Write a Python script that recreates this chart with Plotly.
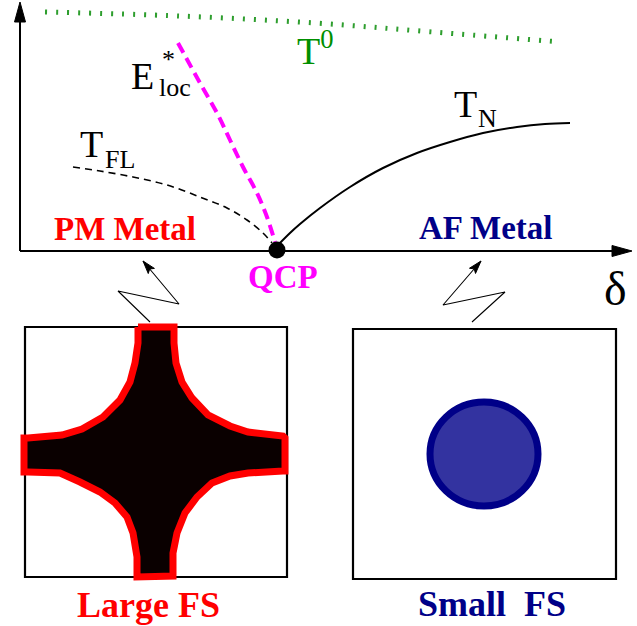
import math
import plotly.graph_objects as go

# ---------------- data (schematic coordinates, pixel-like units) ----------------
t0_x = [45, 180, 315, 433, 561]
t0_y = [12, 16, 23, 32, 42]
eloc_x = [178, 200, 217, 230, 243, 257, 267, 275]
eloc_y = [43, 83, 113, 140, 167, 193, 217, 242]
tfl_x = [73, 100, 133, 167, 200, 227, 247, 263, 272]
tfl_y = [167, 171, 177, 185, 197, 208, 220, 233, 243]
tn_x = [278, 290, 300, 320, 350, 383, 417, 450, 483, 517, 545, 570]
tn_y = [245, 233, 224, 208, 187, 168, 153, 142, 133, 127, 124, 123]
qcp_x = [277]
qcp_y = [250]

bolt_left_x = [150, 118, 179, 143]
bolt_left_y = [322, 291, 304, 261]
bolt_right_x = [472, 505, 443, 481]
bolt_right_y = [322, 292, 305, 261]

# large Fermi surface outline (clockwise from top-left of top arm)
fs_x = [138, 174, 174, 176, 182, 192, 208, 230, 248, 283, 285,
        285, 283, 248, 230, 212, 197, 185, 177, 173, 173,
        173, 137, 137, 133, 127, 115, 100, 80, 60, 28, 24,
        24, 28, 62, 82, 103, 120, 130, 135, 138, 138]
fs_y = [327, 327, 343, 363, 382, 398, 415, 426, 432, 436, 438,
        471, 471, 473, 476, 483, 497, 513, 533, 553, 575,
        576, 577, 557, 533, 517, 503, 492, 482, 473, 472, 472,
        438, 438, 435, 429, 417, 400, 382, 363, 343, 327]

# small Fermi surface pocket: center and radii
pocket_cx, pocket_cy, pocket_rx, pocket_ry = 484, 454, 54, 52

# axes
origin_x, origin_y = 20, 251
yaxis_top, xaxis_end = 2, 632

# boxes (x0, y0, x1, y1)
box_left = (25, 327, 287, 577)
box_right = (353, 329, 616, 579)

FONT = "Liberation Serif, DejaVu Serif, serif"
RED = "#ff0000"
NAVY = "#000088"
MAGENTA = "#ff00ff"
GREEN_TXT = "#008f00"
GREEN_DOT = "#2e9e2e"


def head_path(tip_x, tip_y, from_x, from_y, length, width, notch=0.0):
    dx, dy = tip_x - from_x, tip_y - from_y
    n = math.hypot(dx, dy)
    ux, uy = dx / n, dy / n
    bx, by = tip_x - ux * length, tip_y - uy * length
    px, py = -uy, ux
    p1 = (bx + px * width / 2, by + py * width / 2)
    p2 = (bx - px * width / 2, by - py * width / 2)
    nx, ny = bx + ux * length * notch, by + uy * length * notch
    return (f"M {tip_x},{tip_y} L {p1[0]:.2f},{p1[1]:.2f} L {nx:.2f},{ny:.2f} "
            f"L {p2[0]:.2f},{p2[1]:.2f} Z")


fig = go.Figure()

# T0 dotted line (vertical ticks)
fig.add_trace(go.Scatter(x=t0_x, y=t0_y, mode="lines", line_shape="spline",
                         line=dict(color=GREEN_DOT, width=5, dash="2px,9px"),
                         hoverinfo="skip"))
# T_FL dashed
fig.add_trace(go.Scatter(x=tfl_x, y=tfl_y, mode="lines", line_shape="spline",
                         line=dict(color="black", width=1.6, dash="7px,5px"),
                         hoverinfo="skip"))
# E*_loc dashed magenta
fig.add_trace(go.Scatter(x=eloc_x, y=eloc_y, mode="lines", line_shape="spline",
                         line=dict(color=MAGENTA, width=4, dash="11px,6px"),
                         hoverinfo="skip"))
# T_N solid
fig.add_trace(go.Scatter(x=tn_x, y=tn_y, mode="lines", line_shape="spline",
                         line=dict(color="black", width=2), hoverinfo="skip"))
# lightning bolts
for bx_, by_ in [(bolt_left_x, bolt_left_y), (bolt_right_x, bolt_right_y)]:
    fig.add_trace(go.Scatter(x=bx_, y=by_, mode="lines",
                             line=dict(color="black", width=1.1), hoverinfo="skip"))
# large FS
fig.add_trace(go.Scatter(x=fs_x, y=fs_y, mode="lines", fill="toself",
                         fillcolor="#0a0000", line=dict(color=RED, width=7),
                         hoverinfo="skip"))
# QCP dot
fig.add_trace(go.Scatter(x=qcp_x, y=qcp_y, mode="markers",
                         marker=dict(color="black", size=17), hoverinfo="skip"))

shapes = []
# axes lines
shapes.append(dict(type="line", x0=origin_x, y0=origin_y, x1=origin_x, y1=yaxis_top + 15,
                   line=dict(color="black", width=2)))
shapes.append(dict(type="line", x0=origin_x, y0=origin_y, x1=xaxis_end - 15, y1=origin_y,
                   line=dict(color="black", width=2)))
shapes.append(dict(type="path", path=head_path(origin_x, yaxis_top, origin_x, origin_y, 20, 11),
                   fillcolor="black", line=dict(color="black", width=1)))
shapes.append(dict(type="path", path=head_path(xaxis_end, origin_y, origin_x, origin_y, 20, 11),
                   fillcolor="black", line=dict(color="black", width=1)))
# bolt arrowheads
for bx_, by_ in [(bolt_left_x, bolt_left_y), (bolt_right_x, bolt_right_y)]:
    shapes.append(dict(type="path",
                       path=head_path(bx_[-1], by_[-1], bx_[-2], by_[-2], 13, 8, notch=0.2),
                       fillcolor="black", line=dict(color="black", width=1)))
# boxes
for b in (box_left, box_right):
    shapes.append(dict(type="rect", x0=b[0], y0=b[1], x1=b[2], y1=b[3], layer="below",
                       line=dict(color="black", width=2.2), fillcolor="rgba(0,0,0,0)"))
# small FS pocket
shapes.append(dict(type="circle", x0=pocket_cx - pocket_rx, x1=pocket_cx + pocket_rx,
                   y0=pocket_cy - pocket_ry, y1=pocket_cy + pocket_ry,
                   fillcolor="#3333a0", line=dict(color=NAVY, width=7)))


def txt(x, y, s, size, color="black", bold=False, xanchor="center"):
    weight = "bold" if bold else "normal"
    return dict(x=x, y=y, text=s, showarrow=False, xanchor=xanchor, yanchor="middle",
                font=dict(family=FONT, size=size, color=color, weight=weight))


annotations = [
    txt(125, 229, "PM Metal", 33, RED, True),
    txt(485, 228, "AF Metal", 33, NAVY, True),
    txt(283, 277, "QCP", 33, MAGENTA, True),
    txt(148, 605, "Large FS", 36, RED, True),
    txt(492, 604, "Small\u00a0 FS", 36, NAVY, True),
    txt(615, 288, "\u03b4", 48),
    # E*_loc
    txt(142, 76, "E", 38),
    txt(168, 59, "*", 26),
    txt(175, 87, "loc", 26),
    # T_FL
    txt(91, 144, "T", 38),
    txt(120, 159, "FL", 26),
    # T_N
    txt(465, 104, "T", 38),
    txt(487, 118, "N", 26),
    # T0
    txt(295, 48, "T<sup>0</sup>", 38, GREEN_TXT, xanchor="left"),
]

fig.update_layout(
    width=637, height=626, margin=dict(l=0, r=0, t=0, b=0),
    paper_bgcolor="white", plot_bgcolor="white", showlegend=False,
    font=dict(family=FONT),
    xaxis=dict(range=[0, 637], visible=False, fixedrange=True),
    yaxis=dict(range=[626, 0], visible=False, fixedrange=True),
    shapes=shapes, annotations=annotations,
)

fig.write_html("out.html", config={"displayModeBar": False},
               post_script="document.body.style.margin='0';document.body.style.overflow='hidden';")
